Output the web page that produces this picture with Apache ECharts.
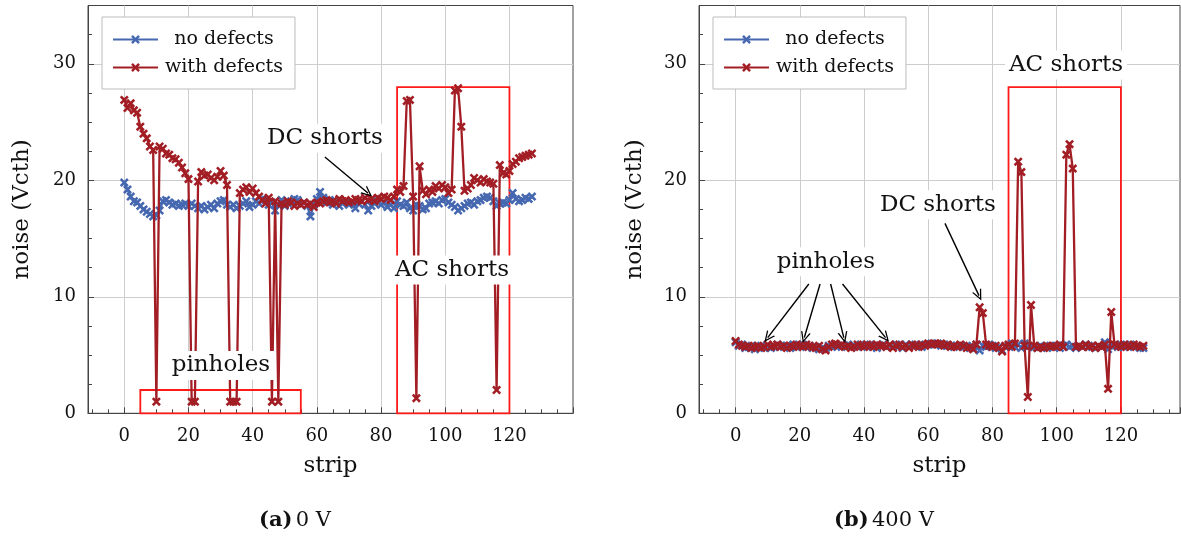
<!DOCTYPE html>
<html>
<head>
<meta charset="utf-8">
<script src="https://cdn.jsdelivr.net/npm/echarts@6/dist/echarts.min.js"></script>
<style>
  html, body { margin: 0; padding: 0; background: #fff; }
  #main { width: 1181px; height: 540px; }
</style>
</head>
<body>
<div id="main"></div>
<script>
// strip numbers
const strips = [0,1,2,3,4,5,6,7,8,9,10,11,12,13,14,15,16,17,18,19,20,21,22,23,24,25,26,27,28,29,30,31,
  32,33,34,35,36,37,38,39,40,41,42,43,44,45,46,47,48,49,50,51,52,53,54,55,56,57,58,59,60,61,62,63,
  64,65,66,67,68,69,70,71,72,73,74,75,76,77,78,79,80,81,82,83,84,85,86,87,88,89,90,91,92,93,94,95,
  96,97,98,99,100,101,102,103,104,105,106,107,108,109,110,111,112,113,114,115,116,117,118,119,120,121,122,123,124,125,126,127];

// (a) 0 V
const noDefects0V = [19.8,19.2,18.6,18.2,18.1,17.8,17.5,17.3,17.1,16.9,17.0,17.4,18.2,18.3,18.1,17.9,
  18.0,17.8,17.9,18.0,17.8,18.0,17.8,17.6,17.8,17.5,17.7,17.9,17.6,18.0,18.2,18.3,
  17.9,17.7,17.9,17.6,17.8,18.0,18.2,17.7,17.9,18.2,18.0,18.4,18.3,17.9,18.1,17.4,
  17.9,18.3,17.8,18.0,18.2,18.4,18.3,17.9,18.1,17.8,16.9,17.9,18.4,19.0,18.5,18.1,
  18.3,17.9,18.2,17.8,18.0,18.2,17.9,18.1,17.6,18.0,18.2,17.9,17.4,17.8,18.0,18.2,
  17.9,18.1,17.7,17.9,17.6,18.2,17.9,17.8,18.1,17.6,17.4,17.9,17.8,17.5,17.6,18.0,
  18.1,18.2,18.0,18.3,18.4,18.1,17.9,17.7,17.4,17.6,17.8,18.0,18.1,17.9,18.2,18.3,
  18.5,18.6,18.5,18.2,17.8,18.0,18.1,18.0,18.3,18.9,18.4,18.2,18.3,18.5,18.4,18.6];
const withDefects0V = [26.9,26.2,26.6,26.0,25.8,24.6,24.0,23.6,22.9,22.6,1.0,22.9,22.7,22.3,22.2,21.9,
  21.8,21.5,21.1,20.6,20.1,1.0,1.0,19.9,20.7,20.4,20.5,20.2,20.0,20.3,20.8,20.4,
  19.6,1.0,1.0,1.0,18.9,19.2,19.4,19.0,19.3,18.9,18.6,18.3,18.0,18.5,1.0,18.2,
  1.0,18.0,17.9,18.2,18.1,17.8,18.0,17.9,18.1,17.9,18.0,17.7,18.1,18.0,18.2,18.3,
  18.1,18.2,18.0,18.4,18.2,18.3,18.1,18.2,18.4,18.3,18.2,18.5,18.3,18.4,18.2,18.5,
  18.4,18.6,18.5,18.3,18.6,19.2,19.0,19.5,26.8,26.9,18.6,1.3,21.2,19.1,18.8,19.2,
  19.0,19.5,19.3,19.6,19.4,18.9,19.2,27.7,27.9,24.6,19.1,19.3,19.6,20.2,20.0,19.8,
  20.1,19.9,19.8,19.7,2.0,21.3,20.6,20.5,20.8,21.4,21.6,21.9,22.0,22.1,22.2,22.3];

// (b) 400 V
const noDefects400V = [6.1,5.8,5.9,5.6,5.7,5.8,5.5,5.7,5.8,5.6,5.8,5.6,5.7,5.9,5.8,5.7,
  5.8,5.6,5.9,5.7,5.8,5.9,5.7,5.8,5.6,5.7,5.5,5.6,5.5,5.8,5.7,5.9,
  5.8,5.7,5.8,5.9,5.7,5.8,5.7,5.9,5.8,5.7,5.9,5.8,5.6,5.8,5.9,5.7,
  5.8,5.7,5.9,5.8,5.6,5.9,5.7,5.8,5.9,5.8,5.7,5.9,5.9,6.0,5.9,6.0,
  5.8,5.9,5.8,5.8,5.7,5.8,5.8,5.7,5.8,5.6,5.7,5.9,5.4,5.8,5.7,5.9,
  5.8,5.6,5.7,5.4,5.7,5.8,6.0,5.7,5.9,5.6,6.0,5.7,5.8,5.7,5.6,5.8,
  5.7,5.6,5.8,5.7,5.8,5.6,5.8,5.9,5.7,5.8,5.6,5.8,5.7,5.9,5.8,5.7,
  5.6,5.8,5.7,6.1,5.5,5.9,5.8,5.7,5.9,5.7,5.8,5.9,5.7,5.8,5.6,5.6];
const withDefects400V = [6.2,5.9,5.8,5.7,5.8,5.6,5.7,5.8,5.6,5.7,5.9,5.7,5.8,5.9,5.7,5.8,
  5.6,5.8,5.7,5.9,5.8,5.7,5.9,5.8,5.7,5.6,5.8,5.5,5.4,5.7,5.9,6.0,
  5.8,5.9,5.7,5.8,5.6,5.7,5.9,5.8,5.7,5.9,5.8,5.7,5.9,5.8,5.8,5.7,
  5.9,5.6,5.8,5.9,5.7,5.8,5.6,5.9,5.8,5.7,5.9,5.8,6.0,5.9,6.0,5.9,
  6.0,5.8,5.9,5.7,5.8,5.7,5.9,5.8,5.6,5.7,5.5,5.9,9.1,8.6,5.9,5.8,
  5.7,5.8,5.6,5.3,5.8,5.9,5.7,6.0,21.6,20.7,5.8,1.4,9.3,5.8,5.6,5.7,
  5.6,5.8,5.7,5.8,5.7,5.9,5.7,22.2,23.1,21.0,5.7,5.8,5.7,5.9,5.7,5.8,
  5.6,5.8,5.7,5.9,2.1,8.7,5.9,5.8,5.7,5.9,5.8,5.7,5.9,5.8,5.7,5.8];

const seriesNames = ['no defects', 'with defects'];
const xTickLabels = [0, 20, 40, 60, 80, 100, 120];
const yTickLabels = [0, 10, 20, 30];

// annotation boxes [x0, y0, x1, y1]
const boxesA = [[5, 0, 55, 2], [85, 0, 120, 28]];
const boxesB = [[85, 0, 120, 28]];
// labels [text, x, y]
const labelsA = [['DC shorts', 62.5, 23.6], ['pinholes', 30.1, 4.1], ['AC shorts', 102.1, 12.3]];
const labelsB = [['AC shorts', 102.9, 29.9], ['DC shorts', 63.0, 17.9], ['pinholes', 28.1, 13.0]];
// arrows [x0, y0, x1, y1]
const arrowsA = [[62.5, 22.0, 75.9, 18.9]];
const arrowsB = [[65.2, 16.3, 75.8, 10.1], [22.8, 11.1, 10.0, 6.5], [26.3, 11.1, 21.4, 6.5],
  [29.6, 11.1, 33.7, 6.5], [33.3, 11.1, 46.7, 6.5]];

const FONT = 'DejaVu Serif';
const BLUE = '#4668b0';
const RED = '#a21e24';
const CROSS = 'path://M0,2 L2,0 L5,3 L8,0 L10,2 L7,5 L10,8 L8,10 L5,7 L2,10 L0,8 L3,5 Z';
const ARROW = 'path://M0,10 L5,0 L10,10 L8.6,10 L5,2.8 L1.4,10 Z';

function pairs(vals) {
  return strips.map((s, i) => [s, vals[i]]);
}

function xAxisFor(gi, min, max) {
  return {
    type: 'value', gridIndex: gi, min: min, max: max, splitNumber: 7,
    name: 'strip', nameLocation: 'middle', nameGap: 41,
    nameTextStyle: { fontFamily: FONT, fontSize: 23, color: '#111' },
    axisLine: { show: true, onZero: false, lineStyle: { color: '#444', width: 1 } },
    axisTick: { show: true, inside: true, length: 6, lineStyle: { color: '#444' } },
    minorTick: { show: true, splitNumber: 4, length: 4, lineStyle: { color: '#444' } },
    splitLine: { show: true, showMinLine: false, showMaxLine: false, lineStyle: { color: '#cdcdcd', width: 1 } },
    axisLabel: {
      margin: 14, fontFamily: FONT, fontSize: 18, color: '#111',
      showMinLabel: false, showMaxLabel: false,
      formatter: v => xTickLabels.indexOf(v) >= 0 ? String(v) : ''
    }
  };
}

function yAxisFor(gi, gap) {
  return {
    type: 'value', gridIndex: gi, min: 0, max: 35, interval: 10,
    name: 'noise (Vcth)', nameLocation: 'middle', nameGap: gap,
    nameTextStyle: { fontFamily: FONT, fontSize: 23, color: '#111' },
    axisLine: { show: true, onZero: false, lineStyle: { color: '#444', width: 1 } },
    axisTick: { show: true, inside: true, length: 6, lineStyle: { color: '#444' } },
    minorTick: { show: true, splitNumber: 4, length: 4, lineStyle: { color: '#444' } },
    splitLine: { show: true, showMinLine: false, showMaxLine: false, lineStyle: { color: '#cdcdcd', width: 1 } },
    axisLabel: {
      margin: 12, fontFamily: FONT, fontSize: 18, color: '#111',
      showMaxLabel: false,
      formatter: v => yTickLabels.indexOf(v) >= 0 ? String(v) : ''
    }
  };
}

function dataSeries(gi, name, vals, color, z) {
  return {
    name: name, type: 'line', xAxisIndex: gi, yAxisIndex: gi,
    data: pairs(vals), z: z,
    symbol: CROSS, symbolSize: 9, showSymbol: true, showAllSymbol: true,
    lineStyle: { color: color, width: 2.3 },
    itemStyle: { color: color },
    emphasis: { disabled: true },
    silent: true
  };
}

function annotSeries(gi, boxes, labels, arrows) {
  return {
    type: 'line', xAxisIndex: gi, yAxisIndex: gi, data: [], z: 10, silent: true,
    markArea: {
      silent: true,
      itemStyle: { color: 'rgba(0,0,0,0)', borderColor: '#ff1a1a', borderWidth: 1.8 },
      data: boxes.map(b => [{ coord: [b[0], b[1]] }, { coord: [b[2], b[3]] }])
    },
    markLine: {
      silent: true, symbol: ['none', ARROW], symbolSize: [10, 11],
      lineStyle: { color: '#000', width: 1.4, type: 'solid' },
      label: { show: false },
      data: arrows.map(a => [{ coord: [a[0], a[1]] }, { coord: [a[2], a[3]] }])
    },
    markPoint: {
      silent: true, symbol: 'circle', symbolSize: 1,
      itemStyle: { color: 'rgba(0,0,0,0)' },
      label: {
        show: true, position: 'inside', formatter: '{b}',
        fontFamily: FONT, fontSize: 23, color: '#111',
        backgroundColor: '#fff', padding: [3, 4]
      },
      data: labels.map(l => ({ name: l[0], coord: [l[1], l[2]] }))
    }
  };
}

function legendFor(left) {
  return {
    left: left, top: 17, orient: 'vertical',
    backgroundColor: '#fff', borderColor: '#bcbcbc', borderWidth: 1,
    padding: [13, 12, 12, 10], itemGap: 9, itemWidth: 45, itemHeight: 11,
    data: seriesNames,
    formatter: n => '{c|' + n + '}',
    textStyle: {
      fontFamily: FONT, fontSize: 19, color: '#111',
      rich: { c: { width: 122, height: 22, align: 'center', fontFamily: FONT, fontSize: 19, color: '#111' } }
    }
  };
}

const chart = echarts.init(document.getElementById('main'), null, { renderer: 'canvas' });
chart.setOption({
  animation: false,
  backgroundColor: '#fff',
  grid: [
    { left: 88, top: 5.5, width: 485, height: 407.8, show: true, borderColor: '#444', borderWidth: 1, backgroundColor: 'rgba(0,0,0,0)' },
    { left: 699, top: 5.5, width: 481, height: 407.8, show: true, borderColor: '#444', borderWidth: 1, backgroundColor: 'rgba(0,0,0,0)' }
  ],
  xAxis: [xAxisFor(0, -11.3, 139.8), xAxisFor(1, -11.4, 138.4)],
  yAxis: [yAxisFor(0, 54), yAxisFor(1, 52)],
  legend: [legendFor(102), legendFor(713)],
  series: [
    dataSeries(0, seriesNames[0], noDefects0V, BLUE, 3),
    dataSeries(0, seriesNames[1], withDefects0V, RED, 4),
    dataSeries(1, seriesNames[0], noDefects400V, BLUE, 3),
    dataSeries(1, seriesNames[1], withDefects400V, RED, 4),
    annotSeries(0, boxesA, labelsA, arrowsA),
    annotSeries(1, boxesB, labelsB, arrowsB)
  ],
  graphic: [
    { type: 'text', x: 295, y: 521, style: {
      text: '{b|(a)} {r|0 V}', align: 'center', verticalAlign: 'middle',
      rich: { b: { fontFamily: FONT, fontWeight: 'bold', fontSize: 21, fill: '#111' },
              r: { fontFamily: FONT, fontSize: 21, fill: '#111' } } } },
    { type: 'text', x: 884, y: 521, style: {
      text: '{b|(b)} {r|400 V}', align: 'center', verticalAlign: 'middle',
      rich: { b: { fontFamily: FONT, fontWeight: 'bold', fontSize: 21, fill: '#111' },
              r: { fontFamily: FONT, fontSize: 21, fill: '#111' } } } }
  ]
});
</script>
</body>
</html>
